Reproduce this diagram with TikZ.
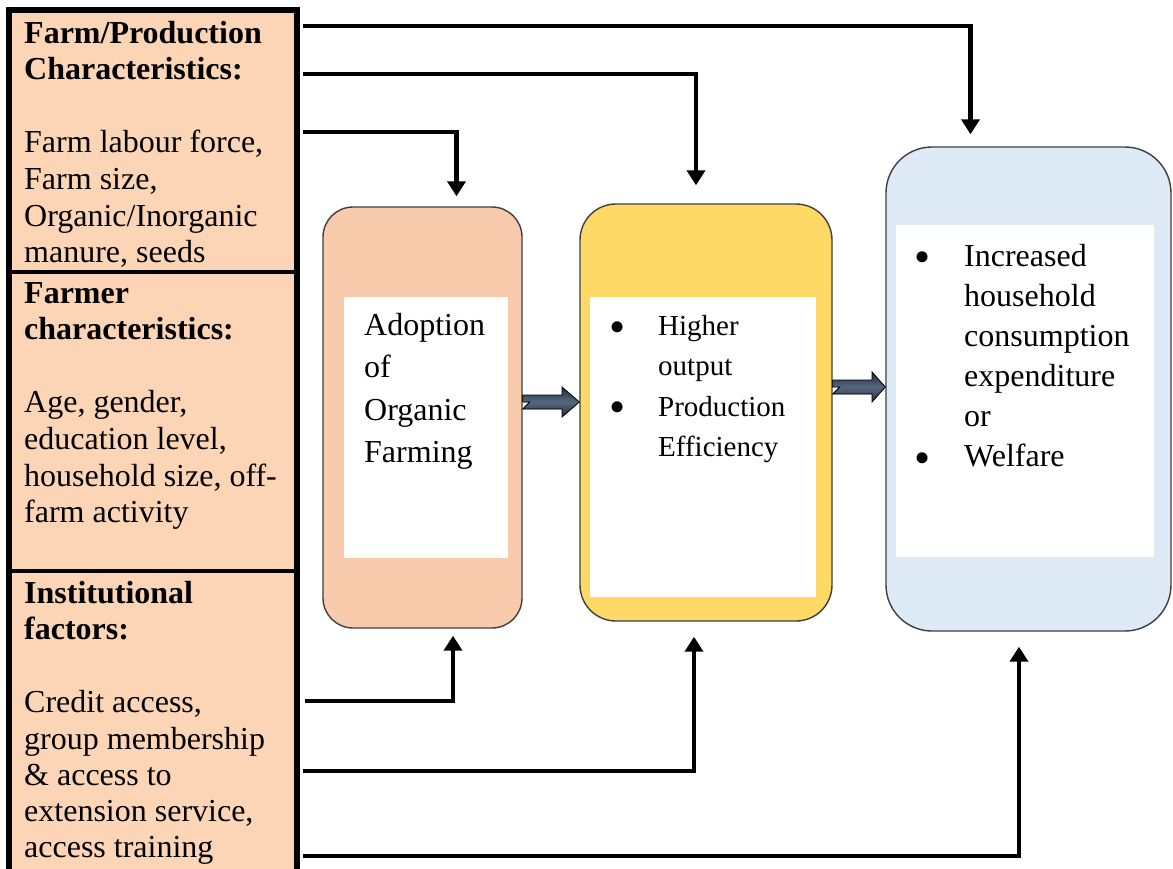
\documentclass[tikz,border=0pt]{standalone}
\usepackage{fontspec}
\setmainfont{Liberation Serif}
\usetikzlibrary{arrows.meta,calc}
\definecolor{leftfill}{HTML}{FBD5B5}
\definecolor{bonefill}{HTML}{F7CBAC}
\definecolor{btwofill}{HTML}{FFD966}
\definecolor{bthreefill}{HTML}{DEEAF6}
\definecolor{boxline}{HTML}{3F3F3F}
\definecolor{fatdark}{HTML}{222C3A}
\definecolor{fatlight}{HTML}{56687F}
\newcommand\txtlines[6]{\foreach \t [count=\i from 0] in {#6} {\node[txt,#2] (#1\i) at (#3,#4+\i*#5) {\t};}}
\begin{document}
\begin{tikzpicture}[x=1pt,y=-1pt,
  txt/.style={anchor=base west,inner sep=0pt,font=\fontsize{32}{38}\selectfont},
  smalltxt/.style={font=\fontsize{29}{35}\selectfont},
  boldtxt/.style={font=\fontsize{32}{38}\selectfont\bfseries},
  bullet/.style={anchor=center,inner sep=0pt,font=\fontsize{46}{50}\selectfont},
  section/.style={draw=black,line width=4pt,fill=leftfill,rectangle,inner sep=0pt,minimum width=288pt},
  roundbox/.style={draw=boxline,line width=1.4pt,rectangle,inner sep=0pt},
  whitebox/.style={fill=white,rectangle,inner sep=0pt},
  conn/.style={line width=4.8pt,-{Triangle[length=15pt,width=18pt]}},
  fatarrow/.style={draw=black,line width=0.8pt,top color=fatdark,bottom color=fatdark,middle color=fatlight,line join=miter}
]
\useasboundingbox (0,0) rectangle (1173,868);
\clip (0,0) rectangle (1173,868);

% left column
\node[section,minimum height=262pt] (sec1) at (153,141) {};
\node[section,minimum height=298.5pt] (sec2) at (153,421.25) {};
\node[section,minimum height=329.5pt] (sec3) at (153,735.25) {};
\node[draw=black,line width=6pt,rectangle,inner sep=0pt,minimum width=288pt,minimum height=890pt] (frame) at (153,455) {};

\txtlines{ha}{boldtxt}{24}{43}{36.6}{Farm/Production,Characteristics:}
\txtlines{ta}{}{24}{152.8}{36.6}{{Farm labour force,},{Farm size,},Organic/Inorganic,{manure, seeds}}
\txtlines{hb}{boldtxt}{24}{303}{36.6}{Farmer,characteristics:}
\txtlines{tb}{}{24}{412.8}{36.6}{{Age, gender,},{education level,},{household size, off-},farm activity}
\txtlines{hc}{boldtxt}{24}{603}{36.6}{Institutional,factors:}
\txtlines{tc}{}{24}{712.8}{36.2}{{Credit access,},group membership,\& access to,{extension service,},access training}

% boxes
\node[roundbox,fill=bonefill,rounded corners=30pt,minimum width=199pt,minimum height=421pt] (b1) at (422.5,417.5) {};
\node[roundbox,fill=btwofill,rounded corners=36pt,minimum width=252pt,minimum height=417pt] (b2) at (706,412.5) {};
\node[roundbox,fill=bthreefill,rounded corners=46pt,minimum width=285pt,minimum height=484pt] (b3) at (1028.5,389) {};

\node[whitebox,minimum width=164pt,minimum height=261pt] (w1) at (426,427.5) {};
\node[whitebox,minimum width=226pt,minimum height=300pt] (w2) at (703,447) {};
\node[whitebox,minimum width=258pt,minimum height=332pt] (w3) at (1025,391) {};

\txtlines{ad}{}{364}{335}{42.5}{Adoption,of,Organic,Farming}

\node[bullet] (bu1) at (618,332) {•};
\node[bullet] (bu2) at (618,412) {•};
\txtlines{ho}{smalltxt}{658}{335}{40.5}{Higher,output,Production,Efficiency}

\node[bullet] (bu3) at (923,262) {•};
\node[bullet] (bu4) at (923,463) {•};
\txtlines{we}{}{964}{266}{40}{Increased,household,consumption,expenditure,or,Welfare}

% fat arrows
\coordinate (fa1) at (b1.east |- 0,402);
\coordinate (fb1) at (b2.west |- 0,402);
\filldraw[fatarrow] (fa1) -- ++(0,-7) -- (562,395) -- (562,387) -- (fb1) -- (562,417) -- (562,409) -- ($(fa1)+(0,7)$) -- ($(fa1)+(7,0)$) -- cycle;
\coordinate (fa2) at (b2.east |- 0,387);
\coordinate (fb2) at (b3.west |- 0,387);
\filldraw[fatarrow] (fa2) -- ++(0,-7) -- (872,380) -- (872,372) -- (fb2) -- (872,402) -- (872,394) -- ($(fa2)+(0,7)$) -- ($(fa2)+(7,0)$) -- cycle;

% connectors
\coordinate (s1) at ($(frame.north east)+(3,19)$);
\coordinate (s2) at ($(frame.north east)+(3,67)$);
\coordinate (s3) at ($(frame.north east)+(3,125)$);
\coordinate (s4) at ($(frame.north east)+(5,694)$);
\coordinate (s5) at ($(frame.north east)+(3,764)$);
\coordinate (s6) at ($(frame.north east)+(3,849)$);
\coordinate (t1) at ($(b3.north)+(-58,-12)$);
\coordinate (t2) at ($(b2.north)+(-10,-18)$);
\coordinate (t3) at ($(b1.north)+(34,-10)$);
\coordinate (t4) at ($(b1.south)+(30.5,7)$);
\coordinate (t5) at ($(b2.south)+(-12,15)$);
\coordinate (t6) at ($(b3.south)+(-9.5,15)$);
\draw[conn] (s1) -| (t1);
\draw[conn] (s2) -| (t2);
\draw[conn] (s3) -| (t3);
\draw[conn] (s4) -| (t4);
\draw[conn] (s5) -| (t5);
\draw[conn] (s6) -| (t6);
\end{tikzpicture}
\end{document}
